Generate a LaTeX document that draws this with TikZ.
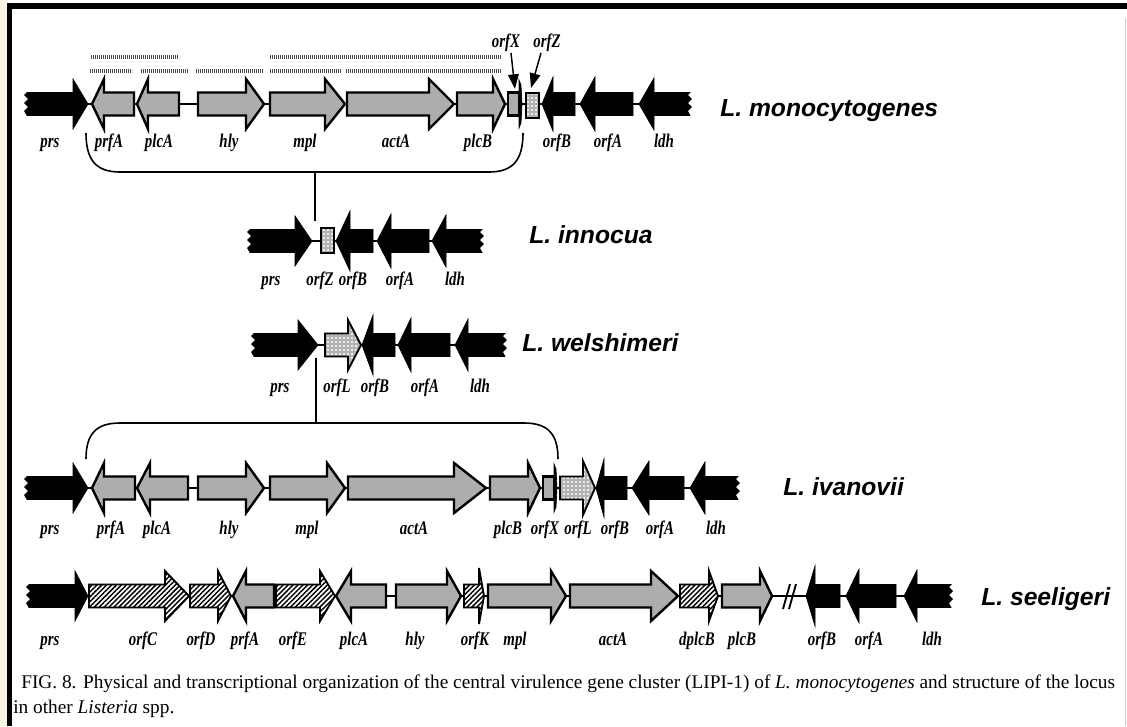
\documentclass[tikz,border=0pt]{standalone}
\usepackage{fontspec}
\setmainfont{Liberation Serif}
\newfontfamily\spfont{Liberation Sans}
\usetikzlibrary{patterns.meta,arrows.meta}
\definecolor{genegray}{gray}{0.68}
\definecolor{edgetint}{RGB}{248,246,226}

\tikzset{
  hh/.store in=\hh, hh=25,
  bh/.store in=\bh, bh=11.5,
  blk/.style={fill=black, draw=black, line width=0.5pt},
  gry/.style={fill=genegray, draw=black, line width=1.8pt},
  chk/.style={draw=black, line width=1.4pt, preaction={fill=gray!60},
    pattern={Dots[distance=3pt,radius=0.8pt]}, pattern color=white},
  hat/.style={draw=black, line width=1.4pt, preaction={fill=white},
    pattern={Lines[angle=45,distance=2.6pt,line width=1.1pt]}, pattern color=black},
  bb/.style={draw=black, line width=1.3pt},
  tx/.style={draw=black!70, line width=3pt, dash pattern=on 0.9pt off 0.6pt},
  link/.style={draw=black, line width=1.2pt},
  gl/.style={font=\fontsize{14.5}{14.5}\selectfont\bfseries\itshape, anchor=base, inner sep=0pt},
  sp/.style={font=\spfont\fontsize{18.5}{18.5}\selectfont\bfseries\itshape, anchor=base west, inner sep=0pt},
  captext/.style={font=\fontsize{14.5}{15}\selectfont, anchor=base west, inner sep=0pt},
  pointer/.style={draw=black, line width=1.1pt, -{Triangle[length=11pt,width=8pt,fill=black]}}
}
% narrow gene-name lettering
\newcommand\gn[1]{\scalebox{0.77}[1]{#1}}

% gene arrow: body end, head base, tip, centre line
\newcommand\gene[5][]{\path[#1] (#2,#5-\bh) -- (#3,#5-\bh) -- (#3,#5-\hh) -- (#4,#5)
  -- (#3,#5+\hh) -- (#3,#5+\bh) -- (#2,#5+\bh) -- cycle;}
% gene arrow whose body end is cut off (ragged edge)
\newcommand\rgene[5][]{\path[#1] (#2,#5-\bh) -- (#3,#5-\bh) -- (#3,#5-\hh) -- (#4,#5)
  -- (#3,#5+\hh) -- (#3,#5+\bh) -- (#2,#5+\bh) -- (#2-2.5,#5+7) -- (#2+1.5,#5+3)
  -- (#2-2.5,#5-1) -- (#2+1.5,#5-5) -- (#2-2.5,#5-9) -- cycle;}
% short gene: grey box closed by a thin black head
\newcommand\stub[4]{\path[gry] (#1,#4-\bh) rectangle (#2,#4+\bh);
  \path[blk] (#2,#4-24) -- (#3-1,#4-19) -- (#3,#4) -- (#3-1,#4+19) -- (#2,#4+24) -- cycle;}

\begin{document}
\begin{tikzpicture}[x=0.75pt,y=-0.75pt]
\useasboundingbox (0,0) rectangle (1127,726);
\fill[white] (0,0) rectangle (1127,726);
\fill[edgetint] (0,0) rectangle (7,726);
% frame
\fill[black] (7,3) rectangle (1127,9);
\fill[black] (7,3) rectangle (12,726);
\draw[gray!40, line width=0.5pt] (1125.5,18) -- (1125.5,726);

% ---------------- L. monocytogenes ----------------
\draw[tx] (91,57) -- (179,57);
\draw[tx] (270,57) -- (501,57);
\draw[tx] (90,71) -- (132,71);
\draw[tx] (141,71) -- (188,71);
\draw[tx] (196,71) -- (263,71);
\draw[tx] (270,71) -- (341,71);
\draw[tx] (346,71) -- (501,71);

\draw[bb] (88,104) -- (639,104);
\rgene[blk]{27}{73}{88}{104}
\gene[gry]{134}{104}{92}{104}
\gene[gry]{179}{148}{137}{104}
\gene[gry]{198}{246}{264}{104}
\gene[gry]{270}{325}{345}{104}
\gene[gry]{347}{429}{454}{104}
\gene[gry]{457}{493}{505}{104}
\stub{508}{519}{522}{104}
\path[chk] (526,93) rectangle (539,118);
\gene[blk,hh=27]{575}{553}{542}{104}
\gene[blk,hh=27]{633}{595}{580}{104}
\rgene[blk,hh=26]{690}{654}{639}{104}

\node[gl] (m-orfXtop) at (506,47) {\gn{orfX}};
\node[gl] (m-orfZtop) at (547,47) {\gn{orfZ}};
\coordinate (m-orfXfoot) at (511,53);
\coordinate (m-orfZfoot) at (541,53);
\coordinate (m-orfXpt) at (515,89);
\coordinate (m-orfZpt) at (531,88);
\draw[pointer] (m-orfXfoot) -- (m-orfXpt);
\draw[pointer] (m-orfZfoot) -- (m-orfZpt);

\foreach \x/\t in {50/prs,109/prfA,159/plcA,229/hly,305/mpl,396/actA,478/plcB,557/orfB,608/orfA,664/ldh}
  \node[gl] (m-\t) at (\x,147) {\gn{\t}};
\node[sp] (sp-mono) at (720,116.5) {L. monocytogenes};

% bracket from LIPI-1 down to the other species
\coordinate (b1l) at (86,133);
\coordinate (b1r) at (523,133);
\coordinate (b1m) at (315,172);
\coordinate (inn-gap) at (315,221);
\draw[link] (b1l) .. controls (86,160) and (96,172) .. (120,172) -- (489,172)
  .. controls (513,172) and (523,160) .. (b1r);
\draw[link] (b1m) -- (inn-gap);

% ---------------- L. innocua ----------------
\draw[bb] (312,241) -- (432,241);
\rgene[blk]{250}{295}{312}{241}
\path[chk] (321,228) rectangle (334,253);
\gene[blk,hh=30]{373}{350}{336}{241}
\gene[blk,hh=27]{429}{391}{377}{241}
\rgene[blk,hh=26]{482}{446}{432}{241}
\foreach \x/\t in {271/prs,320/orfZ,353/orfB,400/orfA,455/ldh}
  \node[gl] (i-\t) at (\x,285) {\gn{\t}};
\node[sp] (sp-inn) at (529,243.5) {L. innocua};

% ---------------- L. welshimeri ----------------
\draw[bb] (318,345) -- (455,345);
\rgene[blk]{254}{298}{318}{345}
\gene[chk]{325}{348}{361}{345}
\gene[blk,hh=30]{395}{373}{362}{345}
\gene[blk,hh=27]{450}{411}{398}{345}
\rgene[blk,hh=26]{505}{468}{455}{345}
\foreach \x/\t in {280/prs,337/orfL,375/orfB,425/orfA,480/ldh}
  \node[gl] (w-\t) at (\x,392) {\gn{\t}};
\node[sp] (sp-wel) at (522,351.5) {L. welshimeri};

\coordinate (wel-gap) at (316,358);
\coordinate (b2m) at (316,423);
\coordinate (b2l) at (86,459);
\coordinate (b2r) at (558,459);
\draw[link] (wel-gap) -- (b2m);
\draw[link] (b2l) .. controls (86,434) and (96,423) .. (120,423) -- (524,423)
  .. controls (548,423) and (558,434) .. (b2r);

% ---------------- L. ivanovii ----------------
\draw[bb] (88,488) -- (690,488);
\rgene[blk]{27}{73}{88}{488}
\gene[gry]{135}{104}{92}{488}
\gene[gry]{188}{150}{137}{488}
\gene[gry]{198}{246}{264}{488}
\gene[gry]{270}{327}{345}{488}
\gene[gry]{348}{454}{486}{488}
\gene[gry]{490}{528}{540}{488}
\stub{543}{554}{557}{488}
\gene[chk,hh=27]{560}{583}{595}{488}
\gene[blk,hh=29]{627}{604}{596}{488}
\gene[blk,hh=27]{684}{649}{632}{488}
\rgene[blk,hh=26]{738}{705}{690}{488}
\foreach \x/\t in {50/prs,111/prfA,157/plcA,229/hly,307/mpl,414/actA,508/plcB,545/orfX,578/orfL,615/orfB,660/orfA,716/ldh}
  \node[gl] (v-\t) at (\x,534) {\gn{\t}};
\node[sp] (sp-iva) at (783,495.5) {L. ivanovii};

% ---------------- L. seeligeri ----------------
\draw[bb] (88,596) -- (904,596);
\rgene[blk]{29}{75}{88}{596}
\gene[hat]{89}{165}{189}{596}
\gene[hat]{190}{218}{231}{596}
\gene[gry]{274}{246}{233}{596}
\gene[hat]{276}{320}{335}{596}
\gene[gry]{386}{351}{336}{596}
\gene[gry]{396}{447}{461}{596}
\gene[hat,hh=28]{464}{479}{484}{596}
\gene[gry]{488}{551}{566}{596}
\gene[gry]{570}{651}{678}{596}
\gene[hat]{680}{709}{718}{596}
\gene[gry]{722}{760}{772}{596}
\draw[black, line width=1.4pt] (783,609) -- (790,584) (789,609) -- (796,584);
\gene[blk,hh=30]{840}{815}{806}{596}
\gene[blk,hh=27]{896}{859}{846}{596}
\rgene[blk,hh=26]{951}{917}{904}{596}
\foreach \x/\t in {50/prs,143/orfC,201/orfD,245/prfA,293/orfE,354/plcA,415/hly,475/orfK,515/mpl,613/actA,697/dplcB,742/plcB,822/orfB,869/orfA,932/ldh}
  \node[gl] (s-\t) at (\x,645) {\gn{\t}};
\node[sp] (sp-see) at (981,605.5) {L. seeligeri};

% ---------------- caption ----------------
\node[captext] (cap1) at (21,688) {FIG. 8. Physical and transcriptional organization of the central virulence gene cluster (LIPI-1) of \textit{L. monocytogenes} and structure of the locus};
\node[captext] (cap2) at (13,713) {in other \textit{Listeria} spp.};
\end{tikzpicture}
\end{document}
